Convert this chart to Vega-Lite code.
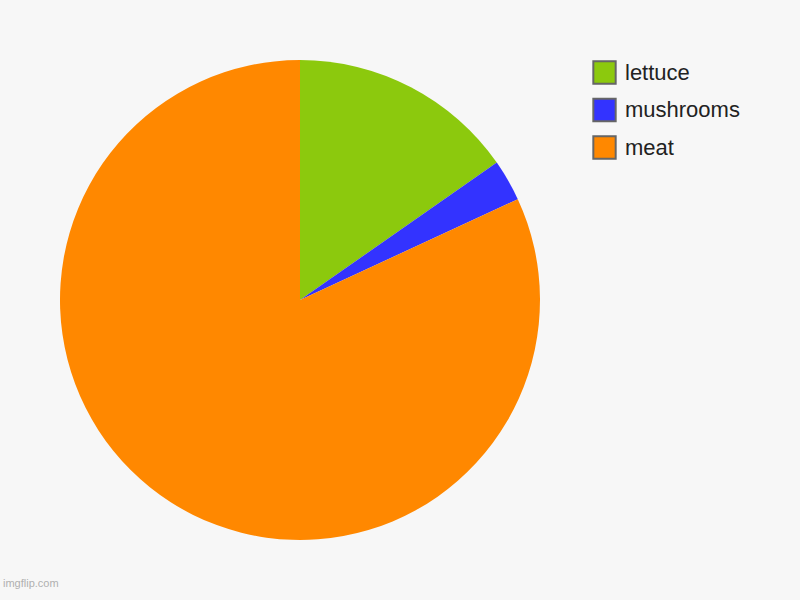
{
  "$schema": "https://vega.github.io/schema/vega-lite/v6.json",
  "width": 600,
  "height": 600,
  "autosize": {"type": "none"},
  "padding": {"left": 0, "top": 0, "right": 200, "bottom": 0},
  "background": "#f7f7f7",
  "title": {
    "text": "imgflip.com",
    "orient": "bottom",
    "anchor": "start",
    "offset": -22,
    "dx": 3,
    "font": "Liberation Sans",
    "fontSize": 11,
    "fontWeight": "normal",
    "color": "#b0b0b0"
  },
  "data": {
    "values": [
      {"item": "lettuce", "value": 15.3, "idx": 1},
      {"item": "mushrooms", "value": 2.8, "idx": 2},
      {"item": "meat", "value": 81.9, "idx": 3}
    ]
  },
  "mark": {"type": "arc", "outerRadius": 240, "stroke": null},
  "encoding": {
    "theta": {"field": "value", "type": "quantitative", "stack": true},
    "order": {"field": "idx", "type": "quantitative"},
    "color": {
      "field": "item",
      "type": "nominal",
      "scale": {
        "domain": ["lettuce", "mushrooms", "meat"],
        "range": ["#8cc90d", "#3333ff", "#ff8800"]
      },
      "legend": {
        "title": null,
        "orient": "none",
        "legendX": 592,
        "legendY": 60,
        "symbolType": "square",
        "symbolSize": 500,
        "symbolStrokeColor": "#666666",
        "symbolStrokeWidth": 2,
        "symbolOpacity": 1,
        "labelFont": "Liberation Sans",
        "labelFontSize": 22,
        "labelColor": "#222222",
        "labelOffset": 8,
        "rowPadding": 6.5,
        "padding": 0
      }
    }
  },
  "config": {"view": {"stroke": null}}
}
